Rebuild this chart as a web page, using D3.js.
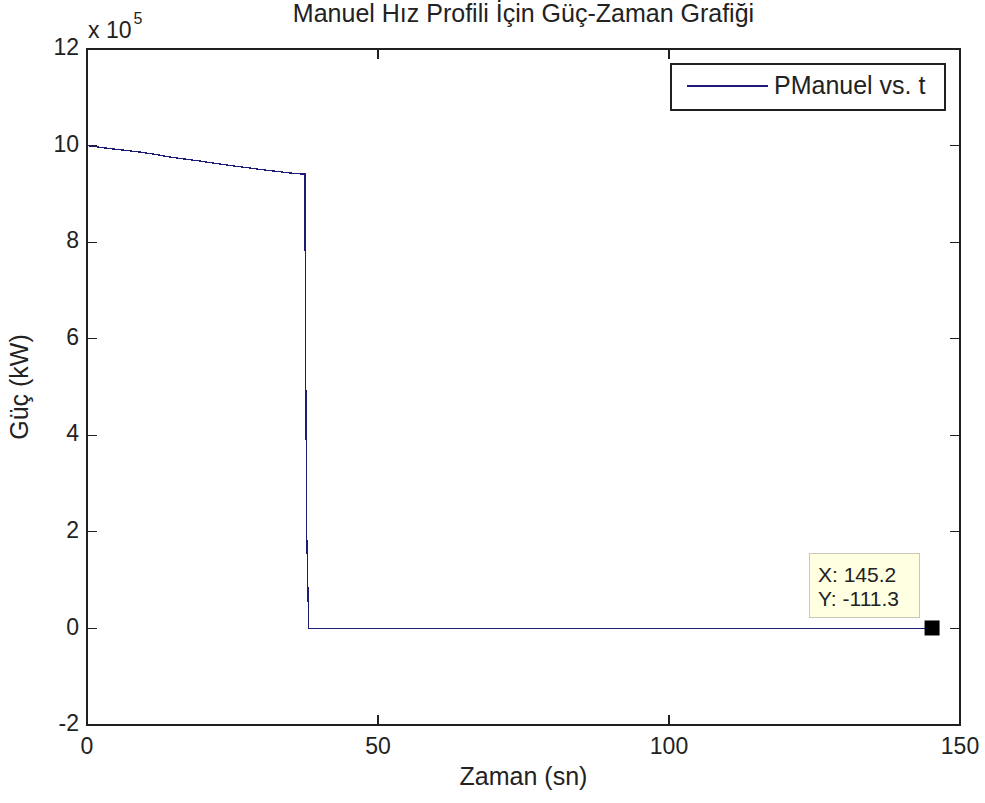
<!DOCTYPE html>
<html>
<head>
<meta charset="utf-8">
<script src="https://cdn.jsdelivr.net/npm/d3@7"></script>
<style>
  html, body { margin: 0; padding: 0; background: #ffffff; }
  svg { display: block; }
  text { font-family: "Liberation Sans", Arial, Helvetica, sans-serif; fill: #222222; }
</style>
</head>
<body>
<script>
// Power vs time for the manual speed profile (power in kW, time in s)
const timeSec = [0, 2.75, 5.7, 9.1, 11.7, 14.3, 16.8, 19.4, 22.0, 24.9, 28.0, 30.6, 34.0, 36.1, 37.45, 37.5, 37.75, 38.1, 145.2];
const powerKW = [1000100, 995500, 991300, 986600, 981800, 976200, 972100, 968000, 963200, 958200, 953500, 949300, 944500, 941700, 941000, 707000, 200000, 0, -111.3];

const xTicks = [0, 50, 100, 150];
const yTicks = [-200000, 0, 200000, 400000, 600000, 800000, 1000000, 1200000];
const yExponent = 5;

const titleText = "Manuel Hız Profili İçin Güç-Zaman Grafiği";
const xLabelText = "Zaman (sn)";
const yLabelText = "Güç (kW)";
const legendText = "PManuel vs. t";
const tipTime = 145.2;
const tipPower = -111.3;

const W = 985, H = 803;
const m = { left: 87, right: 25, top: 49, bottom: 78 };
const pw = W - m.left - m.right, ph = H - m.top - m.bottom;

const svg = d3.select("body").append("svg").attr("width", W).attr("height", H);

const x = d3.scaleLinear().domain([0, 150]).range([m.left, m.left + pw]);
const y = d3.scaleLinear().domain([-200000, 1200000]).range([m.top + ph, m.top]);

const lineColor = "#1c1c74";
const axisColor = "#202020";
const tickLen = 10;
const fs = 23;
const labelFs = 25;

// Axes box
svg.append("rect")
  .attr("x", m.left).attr("y", m.top).attr("width", pw).attr("height", ph)
  .attr("fill", "#ffffff").attr("stroke", axisColor).attr("stroke-width", 1.4)
  .attr("shape-rendering", "crispEdges");

// Inward ticks on all four sides
const tg = svg.append("g").attr("stroke", axisColor).attr("stroke-width", 1.2).attr("shape-rendering", "crispEdges");
xTicks.forEach(t => {
  tg.append("line").attr("x1", x(t)).attr("x2", x(t)).attr("y1", m.top + ph).attr("y2", m.top + ph - tickLen);
  tg.append("line").attr("x1", x(t)).attr("x2", x(t)).attr("y1", m.top).attr("y2", m.top + tickLen);
});
yTicks.forEach(t => {
  tg.append("line").attr("x1", m.left).attr("x2", m.left + tickLen).attr("y1", y(t)).attr("y2", y(t));
  tg.append("line").attr("x1", m.left + pw).attr("x2", m.left + pw - tickLen).attr("y1", y(t)).attr("y2", y(t));
});

// Tick labels (plain hyphen for negatives)
svg.append("g").selectAll("text").data(xTicks).join("text")
  .attr("x", d => x(d)).attr("y", m.top + ph + 23)
  .attr("text-anchor", "middle").attr("dominant-baseline", "middle")
  .attr("font-size", fs).text(d => String(d));

svg.append("g").selectAll("text").data(yTicks).join("text")
  .attr("x", m.left - 8).attr("y", d => y(d))
  .attr("text-anchor", "end").attr("dominant-baseline", "middle")
  .attr("font-size", fs).text(d => String(Math.round(d / Math.pow(10, yExponent))));

// Exponent multiplier
const ex = svg.append("text").attr("x", m.left + 1).attr("y", 38).attr("font-size", fs);
ex.append("tspan").text("x 10");
ex.append("tspan").attr("font-size", 16).attr("dy", -14).attr("dx", 2).text(yExponent);

// Data line
const line = d3.line().x((d, i) => x(timeSec[i])).y(d => y(d));
svg.append("path")
  .attr("d", line(powerKW))
  .attr("fill", "none").attr("stroke", lineColor).attr("stroke-width", 1.3)
  .attr("shape-rendering", "crispEdges");

// Titles
svg.append("text").attr("x", m.left + pw / 2).attr("y", 15)
  .attr("text-anchor", "middle").attr("dominant-baseline", "middle")
  .attr("font-size", labelFs).text(titleText);
svg.append("text").attr("x", m.left + pw / 2).attr("y", 778)
  .attr("text-anchor", "middle").attr("dominant-baseline", "middle")
  .attr("font-size", labelFs).text(xLabelText);
svg.append("text").attr("transform", `translate(21,${m.top + ph / 2}) rotate(-90)`)
  .attr("text-anchor", "middle").attr("dominant-baseline", "middle")
  .attr("font-size", labelFs).text(yLabelText);

// Legend
const lg = svg.append("g");
lg.append("rect").attr("x", 671).attr("y", 64).attr("width", 274).attr("height", 46)
  .attr("fill", "#ffffff").attr("stroke", axisColor).attr("stroke-width", 1.2)
  .attr("shape-rendering", "crispEdges");
lg.append("line").attr("x1", 687).attr("x2", 768).attr("y1", 86).attr("y2", 86)
  .attr("stroke", lineColor).attr("stroke-width", 1.3).attr("shape-rendering", "crispEdges");
lg.append("text").attr("x", 774).attr("y", 87).attr("dominant-baseline", "middle")
  .attr("font-size", labelFs).text(legendText);

// Data tip
const tx = x(tipTime), ty = y(tipPower);
const tip = svg.append("g");
tip.append("rect").attr("x", 809).attr("y", 553).attr("width", 110).attr("height", 64)
  .attr("fill", "#ffffe1").attr("stroke", "#c8c8b4").attr("stroke-width", 1)
  .attr("shape-rendering", "crispEdges");
tip.append("text").attr("x", 818).attr("y", 576).attr("dominant-baseline", "middle")
  .attr("font-size", 21).text("X: " + tipTime);
tip.append("text").attr("x", 818).attr("y", 600).attr("dominant-baseline", "middle")
  .attr("font-size", 21).text("Y: " + tipPower);
tip.append("rect").attr("x", tx - 7.5).attr("y", ty - 8).attr("width", 15).attr("height", 15)
  .attr("fill", "#000000");
</script>
</body>
</html>
